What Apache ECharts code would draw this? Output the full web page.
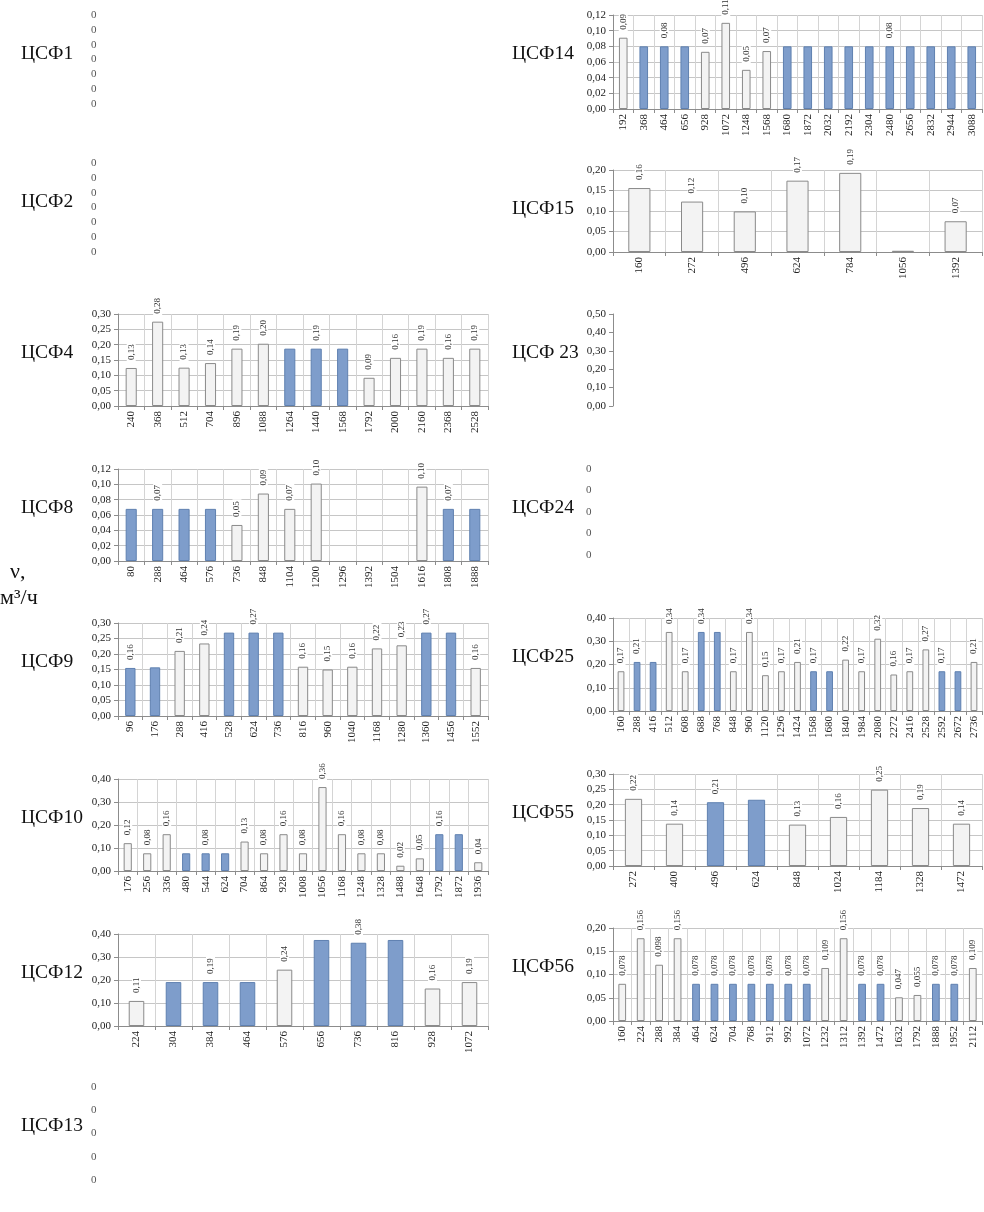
<!DOCTYPE html>
<html><head><meta charset="utf-8">
<script src="https://cdn.jsdelivr.net/npm/echarts@6/dist/echarts.min.js"></script>
<style>html,body{margin:0;padding:0;background:#fff}#c{width:984px;height:1212px}</style>
</head><body><div id="c"></div><script>
// ---------- data ----------
const cat4 = ['240','368','512','704','896','1088','1264','1440','1568','1792','2000','2160','2368','2528'];
const val4 = [0.124,0.275,0.125,0.140,0.187,0.203,0.187,0.187,0.187,0.092,0.157,0.187,0.157,0.187];
const blue4 = [0,0,0,0,0,0,1,1,1,0,0,0,0,0];
const lab4 = ['0,13','0,28','0,13','0,14','0,19','0,20','','0,19','','0,09','0,16','0,19','0,16','0,19'];

const cat8 = ['80','288','464','576','736','848','1104','1200','1296','1392','1504','1616','1808','1888'];
const val8 = [0.068,0.068,0.068,0.068,0.047,0.088,0.068,0.101,null,null,null,0.097,0.068,0.068];
const blue8 = [1,1,1,1,0,0,0,0,0,0,0,0,1,1];
const lab8 = ['','0,07','','','0,05','0,09','0,07','0,10','','','','0,10','0,07',''];

const cat9 = ['96','176','288','416','528','624','736','816','960','1040','1168','1280','1360','1456','1552'];
const val9 = [0.155,0.157,0.210,0.234,0.269,0.269,0.269,0.159,0.150,0.159,0.218,0.228,0.269,0.269,0.155];
const blue9 = [1,1,0,0,1,1,1,0,0,0,0,0,1,1,0];
const lab9 = ['0,16','','0,21','0,24','','0,27','','0,16','0,15','0,16','0,22','0,23','0,27','','0,16'];

const cat10 = ['176','256','336','480','544','624','704','864','928','1008','1056','1168','1248','1328','1488','1648','1792','1872','1936'];
const val10 = [0.121,0.077,0.160,0.077,0.077,0.077,0.128,0.077,0.160,0.077,0.365,0.160,0.077,0.077,0.023,0.055,0.160,0.160,0.038];
const blue10 = [0,0,0,1,1,1,0,0,0,0,0,0,0,0,0,0,1,1,0];
const lab10 = ['0,12','0,08','0,16','','0,08','','0,13','0,08','0,16','0,08','0,36','0,16','0,08','0,08','0,02','0,05','0,16','','0,04'];

const cat12 = ['224','304','384','464','576','656','736','816','928','1072'];
const val12 = [0.109,0.191,0.191,0.191,0.245,0.374,0.362,0.374,0.163,0.191];
const blue12 = [0,1,1,1,0,1,1,1,0,0];
const lab12 = ['0,11','','0,19','','0,24','','0,38','','0,16','0,19'];

const cat14 = ['192','368','464','656','928','1072','1248','1568','1680','1872','2032','2192','2304','2480','2656','2832','2944','3088'];
const val14 = [0.091,0.080,0.080,0.080,0.073,0.110,0.050,0.074,0.080,0.080,0.080,0.080,0.080,0.080,0.080,0.080,0.080,0.080];
const blue14 = [0,1,1,1,0,0,0,0,1,1,1,1,1,1,1,1,1,1];
const lab14 = ['0,09','','0,08','','0,07','0,11','0,05','0,07','','','','','','0,08','','','',''];

const cat15 = ['160','272','496','624','784','1056','1392'];
const val15 = [0.156,0.123,0.099,0.174,0.193,0.003,0.075];
const blue15 = [0,0,0,0,0,0,0];
const lab15 = ['0,16','0,12','0,10','0,17','0,19','','0,07'];

const cat25 = ['160','288','416','512','608','688','768','848','960','1120','1296','1424','1568','1680','1840','1984','2080','2272','2416','2528','2592','2672','2736'];
const val25 = [0.171,0.211,0.211,0.340,0.171,0.340,0.340,0.171,0.340,0.154,0.171,0.211,0.171,0.171,0.221,0.171,0.311,0.157,0.171,0.265,0.171,0.171,0.211];
const blue25 = [0,1,1,0,0,1,1,0,0,0,0,0,1,1,0,0,0,0,0,0,1,1,0];
const lab25 = ['0,17','0,21','','0,34','0,17','0,34','','0,17','0,34','0,15','0,17','0,21','0,17','','0,22','0,17','0,32','0,16','0,17','0,27','0,17','','0,21'];

const cat55 = ['272','400','496','624','848','1024','1184','1328','1472'];
const val55 = [0.219,0.138,0.208,0.216,0.135,0.160,0.249,0.189,0.138];
const blue55 = [0,0,1,1,0,0,0,0,0];
const lab55 = ['0,22','0,14','0,21','','0,13','0,16','0,25','0,19','0,14'];

const cat56 = ['160','224','288','384','464','624','704','768','912','992','1072','1232','1312','1392','1472','1632','1792','1888','1952','2112'];
const val56 = [0.080,0.178,0.121,0.178,0.080,0.080,0.080,0.080,0.080,0.080,0.080,0.114,0.178,0.080,0.080,0.051,0.056,0.080,0.080,0.114];
const blue56 = [0,0,0,0,1,1,1,1,1,1,1,0,0,1,1,0,0,1,1,0];
const lab56 = ['0,078','0,156','0,098','0,156','0,078','0,078','0,078','0,078','0,078','0,078','0,078','0,109','0,156','0,078','0,078','0,047','0,055','0,078','0,078','0,109'];

const yUnit = ['ν,', 'м³/ч'];

// ---------- layout ----------
const COLS = [{left:118, width:370, tx:16}, {left:613, width:369, tx:507}];
const panels = [
  {t:'ЦСФ1', col:0, top:15,  h:89, max:0.30, step:0.05, trunc:true},
  {t:'ЦСФ2', col:0, top:163, h:89, max:0.30, step:0.05, trunc:true},
  {t:'ЦСФ4', col:0, top:314, h:92, max:0.30, step:0.05, c:cat4, v:val4, b:blue4, l:lab4},
  {t:'ЦСФ8', col:0, top:469, h:92, max:0.12, step:0.02, c:cat8, v:val8, b:blue8, l:lab8},
  {t:'ЦСФ9', col:0, top:623, h:93, max:0.30, step:0.05, c:cat9, v:val9, b:blue9, l:lab9},
  {t:'ЦСФ10', col:0, top:779, h:92, max:0.40, step:0.10, c:cat10, v:val10, b:blue10, l:lab10},
  {t:'ЦСФ12', col:0, top:934, h:92, max:0.40, step:0.10, c:cat12, v:val12, b:blue12, l:lab12},
  {t:'ЦСФ13', col:0, top:1087, h:93, max:0.40, step:0.10, trunc:true},
  {t:'ЦСФ14', col:1, top:15,  h:94, max:0.12, step:0.02, c:cat14, v:val14, b:blue14, l:lab14},
  {t:'ЦСФ15', col:1, top:170, h:82, max:0.20, step:0.05, c:cat15, v:val15, b:blue15, l:lab15},
  {t:'ЦСФ 23', col:1, top:314, h:92, max:0.50, step:0.10, axisOnly:true},
  {t:'ЦСФ24', col:1, top:469, h:86, max:0.40, step:0.10, trunc:true},
  {t:'ЦСФ25', col:1, top:618, h:93, max:0.40, step:0.10, c:cat25, v:val25, b:blue25, l:lab25},
  {t:'ЦСФ55', col:1, top:774, h:92, max:0.30, step:0.05, c:cat55, v:val55, b:blue55, l:lab55},
  {t:'ЦСФ56', col:1, top:928, h:93, max:0.20, step:0.05, c:cat56, v:val56, b:blue56, l:lab56}
];

const SERIF = 'Liberation Serif';
const BLUE = {color:'#7e9dcb', borderColor:'#5f80b0', borderWidth:1};
const LIGHT = {color:'#f3f3f3', borderColor:'#8a8a8a', borderWidth:1};
const fmt = v => v.toFixed(2).replace('.', ',');

const grid = [], xAxis = [], yAxis = [], series = [], title = [];
panels.forEach((p, i) => {
  const col = COLS[p.col];
  grid.push({left: col.left, width: col.width, top: p.top, height: p.h, containLabel: false});
  title.push({text: p.t, left: col.tx, top: p.top + 24,
    textStyle: {fontFamily: SERIF, fontSize: 19.5, fontWeight: 'normal', color: '#111'}});
  const hasData = !!p.c;
  xAxis.push({
    type: 'category', gridIndex: i, data: hasData ? p.c : [], show: hasData,
    boundaryGap: true,
    axisLine: {show: true, lineStyle: {color: '#8c8c8c'}},
    axisTick: {show: true, length: 4, interval: 0, lineStyle: {color: '#8c8c8c'}},
    splitLine: {show: true, interval: 0, lineStyle: {color: '#d4d4d4'}},
    axisLabel: {rotate: 90, interval: 0, fontFamily: SERIF, fontSize: 11, color: '#222', margin: 5}
  });
  const y = {
    type: 'value', gridIndex: i, min: 0, max: p.max, interval: p.step,
    axisLine: {show: true, lineStyle: {color: '#8c8c8c'}},
    axisTick: {show: true, length: 4, lineStyle: {color: '#8c8c8c'}},
    splitLine: {show: hasData, lineStyle: {color: '#c6c6c6'}},
    axisLabel: {formatter: fmt, fontFamily: SERIF, fontSize: 11, color: '#222', margin: 7}
  };
  if (p.trunc) {
    y.axisLine = {show: false};
    y.axisTick = {show: false};
    y.axisLabel = {formatter: () => '0', align: 'left', margin: 27, fontFamily: SERIF, fontSize: 11, color: '#555'};
  }
  yAxis.push(y);
  if (hasData) {
    series.push({
      type: 'bar', xAxisIndex: i, yAxisIndex: i, barWidth: '42%',
      label: {show: true, position: 'top', rotate: 90, align: 'left', verticalAlign: 'middle',
        distance: 6, fontFamily: SERIF, fontSize: 9, color: '#333',
        backgroundColor: '#fff', padding: [0, 2]},
      data: p.v.map((v, k) => ({
        value: v,
        itemStyle: p.b[k] ? BLUE : LIGHT,
        label: p.l[k] ? {show: true, formatter: p.l[k]} : {show: false}
      })),
      animation: false
    });
  }
});

const chart = echarts.init(document.getElementById('c'), null, {renderer: 'canvas'});
chart.setOption({
  animation: false,
  backgroundColor: '#fff',
  title, grid, xAxis, yAxis, series,
  graphic: [
    {type: 'text', left: 10, top: 561, style: {text: yUnit[0], font: '22px "Liberation Serif"', fill: '#111'}},
    {type: 'text', left: 0, top: 587, style: {text: yUnit[1], font: '22px "Liberation Serif"', fill: '#111'}}
  ]
});
</script></body></html>
